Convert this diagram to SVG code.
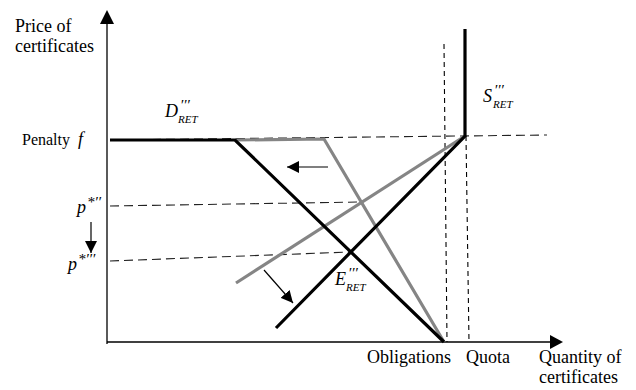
<svg xmlns="http://www.w3.org/2000/svg" width="636" height="390" viewBox="0 0 636 390">
<style>
text{font-family:'Liberation Serif','Times New Roman',serif;fill:#000}
.t{font-size:18px}
.m{font-style:italic;font-size:18px}
.s{font-style:italic;font-size:11px}
.p{font-style:italic;font-size:15px}
.ax{stroke:#000;stroke-width:1.3;fill:none}
.blk{stroke:#000;stroke-width:3.2;fill:none}
.gry{stroke:#858585;stroke-width:3.2;fill:none}
.dsh{stroke:#222;stroke-width:1.1;stroke-dasharray:9,5;fill:none}
.vd{stroke:#000;stroke-width:1.1;stroke-dasharray:5,4;fill:none}
.arr{stroke:#000;stroke-width:1.2;fill:none}
</style>
<defs>
<marker id="ah" viewBox="0 0 10 10" refX="10" refY="5" markerWidth="12" markerHeight="12" markerUnits="userSpaceOnUse" orient="auto"><path d="M0,0 L10,5 L0,10 z" fill="#000"/></marker>
</defs>
<g id="guides">
<line class="dsh" x1="110" y1="140" x2="547" y2="135"/>
<line class="dsh" x1="110" y1="206" x2="361" y2="202"/>
<line class="dsh" x1="110" y1="261" x2="350" y2="252"/>
<line class="vd" x1="444" y1="44" x2="447" y2="342"/>
<line class="vd" x1="466" y1="136" x2="469" y2="342"/>
</g>
<g id="axes">
<line class="ax" x1="107" y1="22" x2="107" y2="344"/>
<path d="M107,10 L100,24 L114,24 z" fill="#000"/>
<line class="ax" x1="107" y1="342" x2="551" y2="342"/>
<path d="M563,342 L550,335 L550,349 z" fill="#000"/>
</g>
<g id="demand-old">
<polyline class="gry" points="235,140 324,139 444,342"/>
</g>
<g id="supply-old">
<line class="gry" x1="465" y1="136" x2="236" y2="283"/>
</g>
<g id="demand-new">
<polyline class="blk" points="110,140 235,140 444,342"/>
</g>
<g id="supply-new">
<polyline class="blk" points="465,29 465,136 276,328"/>
</g>
<g id="connectors">
<line class="arr" x1="328" y1="167" x2="287" y2="167" marker-end="url(#ah)"/>
<line class="arr" x1="91" y1="222" x2="91" y2="253" marker-end="url(#ah)"/>
<line class="arr" x1="264" y1="270" x2="293" y2="303" marker-end="url(#ah)"/>
</g>
<g id="labels">
<text class="t" x="15" y="32">Price of</text>
<text class="t" x="15" y="52">certificates</text>
<text class="t" x="22" y="145" style="font-size:16px">Penalty</text>
<text class="m" x="78" y="145">f</text>
<text class="m" x="77" y="213">p</text>
<text class="p" x="87" y="207">*′′</text>
<text class="m" x="68" y="270">p</text>
<text class="p" x="78" y="264">*′′′</text>
<text class="m" x="165" y="117">D</text>
<text class="p" x="180" y="110">′′′</text>
<text class="s" x="178" y="123">RET</text>
<text class="m" x="483" y="102">S</text>
<text class="p" x="494" y="95">′′′</text>
<text class="s" x="493" y="108">RET</text>
<text class="m" x="335" y="285">E</text>
<text class="p" x="348" y="278">′′′</text>
<text class="s" x="346" y="291">RET</text>
<text class="t" x="367" y="363">Obligations</text>
<text class="t" x="466" y="363">Quota</text>
<text class="t" x="539" y="363">Quantity of</text>
<text class="t" x="539" y="383">certificates</text>
</g>
</svg>
